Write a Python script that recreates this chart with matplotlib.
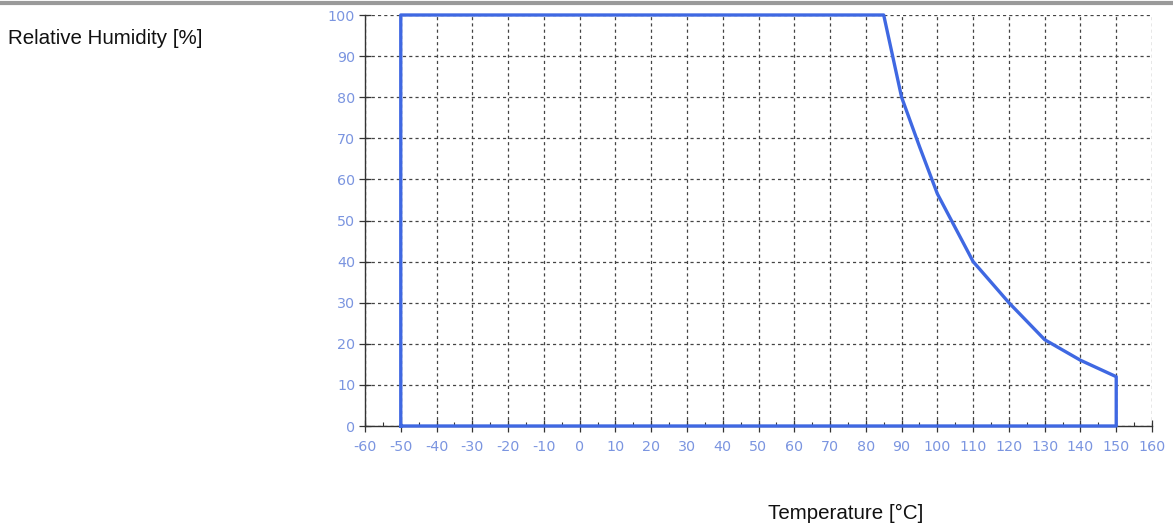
import matplotlib
matplotlib.use("Agg")
import matplotlib.pyplot as plt
from matplotlib.lines import Line2D
from matplotlib.ticker import MultipleLocator

plt.rcParams['axes.unicode_minus'] = False

# Operating envelope (closed outline), temperature in °C, relative humidity in %
temperature = [-50, -50, 85, 90, 95, 100, 110, 120, 130, 140, 150, 150, -50]
humidity = [0, 100, 100, 80, 68, 56.5, 40, 30, 21, 16, 12, 0, 0]

x_ticks = list(range(-60, 161, 10))
y_ticks = list(range(0, 101, 10))

tick_color = '#7b95e0'
line_color = '#3f68e2'

fig = plt.figure(figsize=(11.73, 5.26), dpi=100)
ax = fig.add_axes([365 / 1173, 100 / 526, (1152 - 365) / 1173, (426 - 15) / 526])

ax.plot(temperature, humidity, color=line_color, linewidth=2.4, clip_on=False,
        solid_joinstyle='round', zorder=5)

ax.set_xlim(-60, 160)
ax.set_ylim(0, 100)
ax.set_xticks(x_ticks)
ax.set_yticks(y_ticks)
ax.xaxis.set_minor_locator(MultipleLocator(5))

ax.grid(True, which='major', color='#444444', linestyle=(0, (2.5, 2.5)), linewidth=0.9)
for s in ['top', 'right']:
    ax.spines[s].set_visible(False)
for s in ['left', 'bottom']:
    ax.spines[s].set_color('#333333')
    ax.spines[s].set_linewidth(1.0)

ax.tick_params(axis='both', which='major', direction='inout', length=8, width=0.9,
               color='#333333', labelcolor=tick_color, labelsize=10.3)
ax.tick_params(axis='y', which='major', pad=3)
ax.tick_params(axis='x', which='major', pad=6)
ax.tick_params(axis='x', which='minor', direction='in', length=3, width=0.8, color='#333333')
for lbl in ax.get_xticklabels() + ax.get_yticklabels():
    lbl.set_family('DejaVu Sans')

# Top gray rule
fig.add_artist(Line2D([0, 1], [1 - 2.5 / 526, 1 - 2.5 / 526], transform=fig.transFigure,
                      color='#9a9a9a', linewidth=3.0))

fig.text(8 / 1173, 1 - 38 / 526, 'Relative Humidity [%]', family='Liberation Sans',
         fontsize=14.8, color='#111111', ha='left', va='center')
fig.text(846 / 1173, 1 - 513 / 526, 'Temperature [°C]', family='Liberation Sans',
         fontsize=14.8, color='#111111', ha='center', va='center')

fig.savefig('out.png', dpi=100, facecolor='white')
